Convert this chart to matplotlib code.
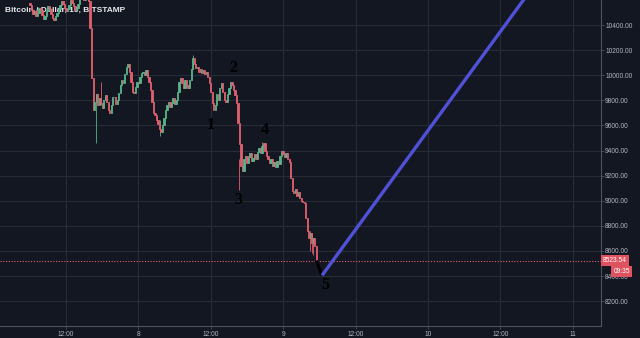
import numpy as np
import matplotlib
matplotlib.use("Agg")
import matplotlib.pyplot as plt

# 15-minute closes, BTC/USD Bitstamp, from 06:00 on the 7th (4 per hour)
closes = [
    10560, 10520, 10490, 10510,  # 06
    10470, 10500, 10540, 10520,  # 07
    10480, 10450, 10470, 10510,  # 08
    10550, 10530, 10490, 10460,  # 09
    10440, 10470, 10500, 10530,  # 10
    10560, 10590, 10570, 10540,  # 11
    10510, 10530, 10560, 10600,  # 12
    10580, 10550, 10520, 10540,  # 13
    10570, 10610, 10640, 10620,  # 14
    10600, 10640, 10620, 10590,  # 15
    10380, 9980, 9720, 9790,     # 16
    9850, 9760, 9820, 9780,      # 17
    9740, 9800, 9840, 9790,      # 18
    9720, 9700, 9760, 9830,      # 19
    9830, 9770, 9800, 9860,      # 20
    9920, 9960, 9940, 10010,     # 21
    10070, 10090, 10030, 9950,   # 22
    9870, 9860, 9910, 9950,      # 23
    9940, 9990, 10020, 10030,    # 00 (8th)
    10000, 10040, 9990, 9950,    # 01
    9880, 9790, 9700, 9680,      # 02
    9640, 9610, 9570, 9550,      # 03
    9600, 9660, 9720, 9760,      # 04
    9790, 9750, 9780, 9820,      # 05
    9770, 9800, 9870, 9950,      # 06
    9980, 9940, 9900, 9960,      # 07
    9920, 9900, 9960, 10050,     # 08
    10140, 10090, 10060, 10070,  # 09
    10030, 10050, 10020, 10040,  # 10
    10010, 10030, 9990, 9940,    # 11
    9870, 9780, 9720, 9760,      # 12
    9850, 9800, 9900, 9940,      # 13
    9870, 9800, 9790, 9850,      # 14
    9900, 9950, 9920, 9880,      # 15
    9840, 9780, 9620, 9450,      # 16
    9280, 9240, 9330, 9360,      # 17
    9300, 9350, 9380, 9320,      # 18
    9340, 9370, 9330, 9390,      # 19
    9420, 9380, 9440, 9460,      # 20
    9400, 9360, 9330, 9300,      # 21
    9330, 9280, 9310, 9270,      # 22
    9320, 9290, 9360, 9400,      # 23
    9370, 9350, 9380, 9330,      # 00 (9th)
    9310, 9180, 9080, 9060,      # 01
    9090, 9040, 9070, 9020,      # 02
    9000, 8990, 8980, 8860,      # 03
    8760, 8700, 8740, 8660,      # 04
    8700, 8640, 8523.54,         # 05
]
first_open = 10580
start_hour = 6.0  # hours counted from 00:00 on the 7th

# a few visible long wicks
wick_hours = [17.0, 17.75, 27.5, 33.0, 40.75, 44.5, 52.5, 52.75, 53.0]
wick_lows = [9460, 9760, 9520, 10060, 9085, 9420, 8600, 8580, 8570]
wick_highs = [9850, 9950, 9640, 10160, 9330, 9470, 8760, 8740, 8700]

# elliott wave count labels
wave_labels = ["1", "2", "3", "4", "5"]
wave_hours = [36.05, 39.7, 40.5, 45.0, 54.95]
wave_prices = [9600, 10057, 9005, 9563, 8328]

# wave 5 leg and projection line
leg_hours = [53.5, 54.45]
leg_prices = [8523.54, 8405]
proj_hours = [54.45, 95.0]
proj_prices = [8405, 11070]

last_price = 8523.54
countdown = "09:35"

xtick_hours = [12, 24, 36, 48, 60, 72, 84, 96]
xtick_labels = ["12:00", "8", "12:00", "9", "12:00", "10", "12:00", "11"]
ytick_values = list(range(8200, 10401, 200))

bg = "#131722"
grid_c = "#262b38"
up_c = "#56b48a"
down_c = "#e0606e"
txt_c = "#b2b5be"

closes = np.array(closes, dtype=float)
opens = np.concatenate([[first_open], closes[:-1]])
hours = start_hour + 0.25 * np.arange(len(closes))
colors = np.where(closes >= opens, up_c, down_c)

fig = plt.figure(figsize=(6.4, 3.38), dpi=100, facecolor=bg)
ax = fig.add_axes([0.0, 0.0355, 0.939, 0.9645], facecolor=bg)

ax.set_xlim(1.05, 100.7)
ax.set_ylim(8002, 10600)

for h in xtick_hours:
    ax.axvline(h, color=grid_c, lw=0.8, zorder=0)
for v in ytick_values:
    ax.axhline(v, color=grid_c, lw=0.8, zorder=0)

ax.text(0.009, 0.969, "Bitcoin / Dollar, 15, BITSTAMP", transform=ax.transAxes,
        color="#e8e8ea", fontsize=6, family="Liberation Sans", fontweight="bold",
        va="center", ha="left", zorder=1)

# candles
ax.vlines(wick_hours, wick_lows, wick_highs, color=[
    down_c if 17 < h < 18 or h > 40 else up_c for h in wick_hours],
    lw=0.6, zorder=2)
ax.bar(hours, closes - opens, bottom=opens, width=0.22, color=colors,
       edgecolor=colors, linewidth=0.6, zorder=3)

# last price line
ax.axhline(last_price, color=down_c, lw=0.8, ls=(0, (1, 1.5)), zorder=1)

# wave drawing
ax.plot(leg_hours, leg_prices, color="black", lw=2.2, solid_capstyle="butt", zorder=4)
ax.plot(proj_hours, proj_prices, color="#4f52d6", lw=2.4, solid_capstyle="butt", zorder=4)
for lab, h, p in zip(wave_labels, wave_hours, wave_prices):
    ax.text(h, p, lab, color="black", fontsize=11.5, family="Liberation Serif",
            fontweight="bold", ha="center", va="center", zorder=5)

# axes styling
ax.set_xticks(xtick_hours)
ax.set_xticklabels(xtick_labels)
ax.set_yticks(ytick_values)
ax.set_yticklabels([f"{v:.2f}" for v in ytick_values])
ax.yaxis.tick_right()
ax.tick_params(axis="both", colors="#4c525e", labelcolor=txt_c, labelsize=4.8,
               length=2, width=0.6)
ax.tick_params(axis="x", pad=1.5)
ax.tick_params(axis="y", pad=1.0)
for lbl in ax.get_xticklabels() + ax.get_yticklabels():
    lbl.set_family("Liberation Sans")
for side in ["top", "left"]:
    ax.spines[side].set_visible(False)
for side in ["right", "bottom"]:
    ax.spines[side].set_color("#4c525e")
    ax.spines[side].set_linewidth(0.8)

# price tag on the axis
ax.annotate(f"{last_price:.2f}", xy=(1.0, last_price),
            xycoords=("axes fraction", "data"), xytext=(1.2, 0),
            textcoords="offset points", color="white", fontsize=4.8,
            family="Liberation Sans", ha="left", va="center", zorder=6,
            annotation_clip=False,
            bbox=dict(boxstyle="square,pad=0.3", fc="#e0525f", ec="none"))
ax.annotate(countdown, xy=(1.0, last_price),
            xycoords=("axes fraction", "data"), xytext=(9.0, -7.6),
            textcoords="offset points", color="white", fontsize=4.8,
            family="Liberation Sans", ha="left", va="center", zorder=6,
            annotation_clip=False,
            bbox=dict(boxstyle="square,pad=0.3", fc="#e0525f", ec="none"))

fig.savefig("out.png", dpi=100, facecolor=bg)
